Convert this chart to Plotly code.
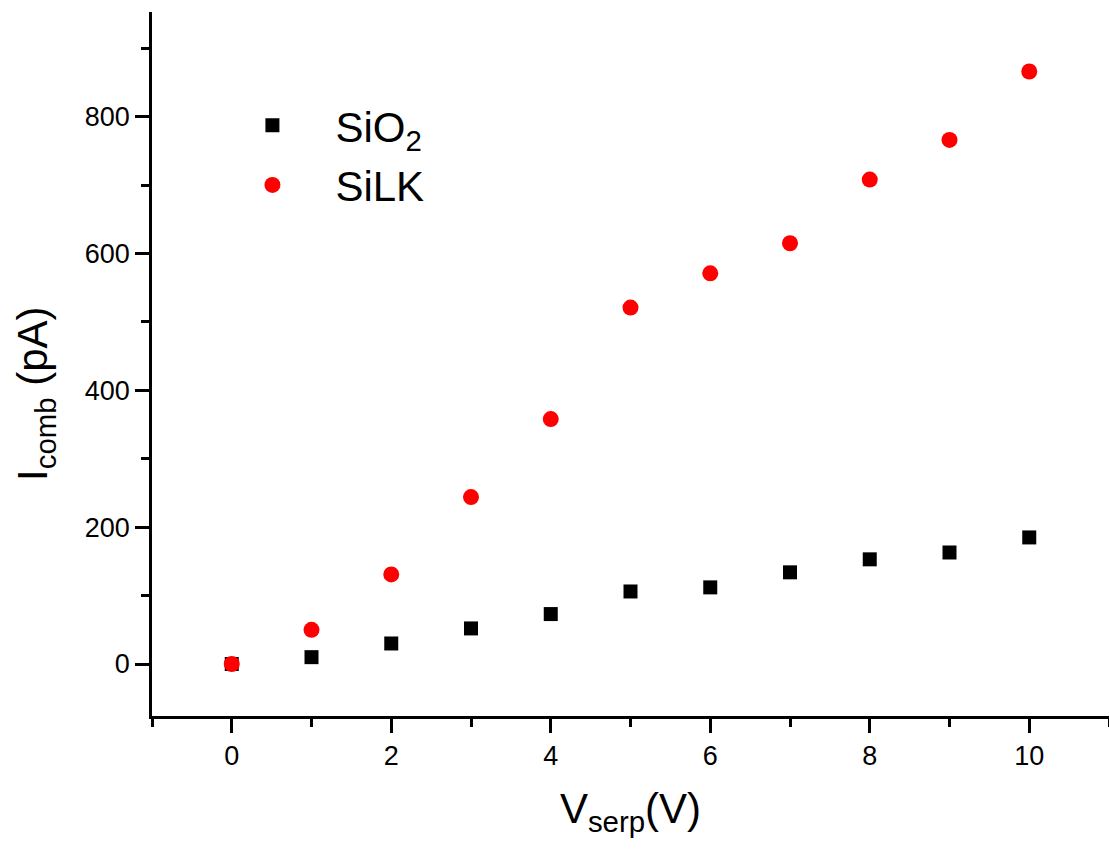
import plotly.graph_objects as go

v_serp = [0, 1, 2, 3, 4, 5, 6, 7, 8, 9, 10]
i_sio2 = [0, 10, 30, 52, 73, 106, 112, 134, 153, 163, 185]
i_silk = [0, 50, 131, 244, 358, 521, 571, 615, 708, 766, 866]

x_ticks = [0, 2, 4, 6, 8, 10]
y_ticks = [0, 200, 400, 600, 800]

FONT = "Liberation Sans, Arial, sans-serif"

fig = go.Figure()
fig.add_trace(go.Scatter(
    x=v_serp, y=i_sio2, mode="markers", name="SiO<sub>2</sub>",
    legendgroup="sio2",
    marker=dict(symbol="square", size=14, color="black"),
))
fig.add_trace(go.Scatter(
    x=v_serp, y=i_silk, mode="markers", name="SiLK",
    legendgroup="silk",
    marker=dict(symbol="circle", size=16, color="#ff0000"),
))


def axis_style(tickvals, minor_step, rng):
    return dict(
        range=rng,
        tickmode="array",
        tickvals=tickvals,
        ticktext=[str(t) for t in tickvals],
        showline=True, linecolor="black", linewidth=2.5,
        ticks="outside", tickwidth=2.5, ticklen=14, tickcolor="black",
        showgrid=False, zeroline=False,
        tickfont=dict(family=FONT, size=27, color="black"),
        minor=dict(ticks="outside", ticklen=8, tickwidth=2.5,
                   tickcolor="black", dtick=minor_step, tick0=0,
                   showgrid=False),
    )


xaxis = axis_style(x_ticks, 1, [-1, 11])
xaxis["title"] = dict(text="V<sub>serp</sub>(V)",
                      font=dict(family=FONT, size=42, color="black"),
                      standoff=24)
yaxis = axis_style(y_ticks, 100, [-76, 953])

fig.update_layout(
    width=1109, height=852,
    margin=dict(l=152, r=0, t=12, b=136),
    plot_bgcolor="white", paper_bgcolor="white",
    xaxis=xaxis,
    yaxis=yaxis,
    showlegend=True,
    legend=dict(
        x=0.06, y=0.887, xanchor="left", yanchor="top",
        font=dict(family=FONT, size=42, color="black"),
        bgcolor="rgba(0,0,0,0)", itemwidth=116, tracegroupgap=2,
    ),
    annotations=[dict(
        text="I<sub>comb</sub> (pA)", textangle=-90,
        xref="paper", yref="paper", x=-0.1223, y=0.4588,
        xanchor="center", yanchor="middle", showarrow=False,
        font=dict(family=FONT, size=42, color="black"),
    )],
)

fig.write_html("out.html")
